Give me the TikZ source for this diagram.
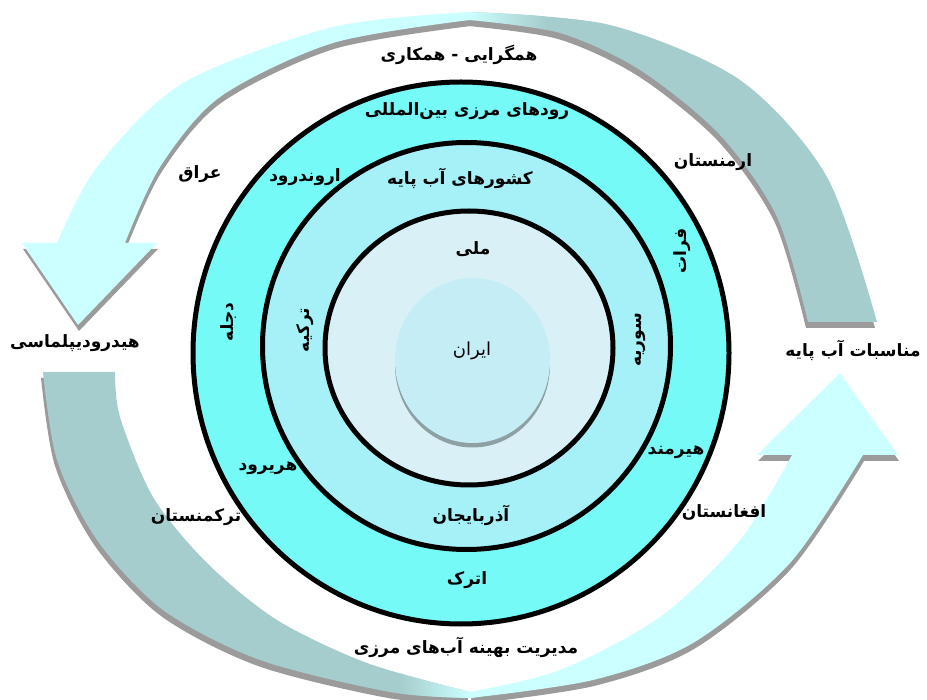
\documentclass[tikz,border=0pt]{standalone}
\usepackage{fontspec}
\newfontfamily\fa[Script=Arabic]{DejaVu Sans}
\TeXXeTstate=1
\newcommand\rtl[1]{\beginR #1\endR}
\definecolor{arrowcyan}{HTML}{CCFFFF}
\definecolor{arrowteal}{HTML}{A6CDCD}
\definecolor{shadowgray}{HTML}{9B9B9B}
\definecolor{ringA}{HTML}{76FAF8}
\definecolor{ringB}{HTML}{A6F1F8}
\definecolor{ringC}{HTML}{D9F1F6}
\definecolor{iranc}{HTML}{C5EDF5}
\definecolor{iranshadow}{HTML}{8FA0A5}
\begin{document}
\begin{tikzpicture}[x=1pt,y=-1pt,
  lbl/.style={font=\fa\bfseries\fontsize{17}{19}\selectfont, inner sep=0pt, text=black},
  lblreg/.style={font=\fa\fontsize{18}{20}\selectfont, inner sep=0pt, text=black},
  ring/.style={line width=5, draw=black},
  topL/.style={insert path={(470,12) -- plot[smooth] coordinates {(470,12) (333,27) (183,83) (97,167) (57,243)} -- (22,243) -- (78,325) -- (157,243) -- (125,243) -- plot[smooth] coordinates {(125,243) (160,167) (220,97) (333,43) (470,20)} -- cycle}},
  topR/.style={insert path={(470,12) -- plot[smooth] coordinates {(470,12) (610,25) (740,80) (827,177) (877,322)} -- (808,322) -- plot[smooth] coordinates {(808,322) (777,217) (720,135) (640,70) (560,33) (470,20)} -- cycle}},
  botL/.style={insert path={(43,372) -- plot[smooth] coordinates {(43,372) (57,460) (97,540) (163,610) (260,660) (390,692) (470,698)} -- (470,692) -- plot[smooth] coordinates {(470,692) (367,663) (277,620) (207,563) (153,497) (120,417) (115,372)} -- cycle}},
  botR/.style={insert path={(470,698) -- plot[smooth] coordinates {(470,698) (593,680) (693,643) (790,563) (863,455)} -- (898,455) -- (840,373) -- (757,455) -- (792,455) -- plot[smooth] coordinates {(792,455) (740,540) (660,617) (560,670) (470,692)} -- cycle}},
]
\useasboundingbox (0,0) rectangle (927,700);
% arrow shadows
\fill[shadowgray, shift={(1,6)}, topL];
\fill[shadowgray, shift={(-2,6)}, topR];
\fill[shadowgray, shift={(-2,6)}, botL];
\fill[shadowgray, shift={(1,6)}, botR];
% arrows
\fill[arrowcyan, topL];
\fill[arrowteal, topR];
\fill[arrowteal, botL];
\fill[arrowcyan, botR];
% soft colour transitions where the ribbons twist
\begin{scope}
  \clip[topR];
  \shade[left color=arrowcyan, right color=arrowteal] (469,0) rectangle (545,60);
\end{scope}
\begin{scope}
  \clip[botL];
  \shade[left color=arrowteal, right color=arrowcyan] (400,640) rectangle (471,700);
\end{scope}
% rings
\draw[ring, fill=ringA] (461,353) ellipse [x radius=268, y radius=271];
\draw[ring, fill=ringB] (466.5,346) ellipse [x radius=204, y radius=203.5];
\draw[ring, fill=ringC] (469,348) ellipse [x radius=144, y radius=137];
\fill[iranshadow] (472.5,365) ellipse [x radius=77.5, y radius=82.5];
\fill[iranc] (472.5,360.5) ellipse [x radius=77.5, y radius=82.5];
% labels
\node[lbl] (hamgarai) at (459,55) {\rtl{همگرایی - همکاری}};
\node[lbl] (rudha) at (467,111) {\rtl{رودهای مرزی بین‌المللی}};
\node[lbl] (aragh) at (200,174) {\rtl{عراق}};
\node[lbl] (arvand) at (305,177) {\rtl{اروندرود}};
\node[lbl] (keshvarha) at (460,178) {\rtl{کشورهای آب پایه}};
\node[lbl] (armanestan) at (713,162) {\rtl{ارمنستان}};
\node[lbl, rotate=90] (forat) at (682,251) {\rtl{فرات}};
\node[lbl] (melli) at (473,249) {\rtl{ملی}};
\node[lbl, rotate=90] (dejle) at (229,322) {\rtl{دجله}};
\node[lbl, rotate=90] (torkiye) at (305,330) {\rtl{ترکیه}};
\node[lblreg] (iran) at (472,351) {\rtl{ایران}};
\node[lbl, rotate=90] (suriye) at (640,340) {\rtl{سوریه}};
\node[lbl] (hidro) at (75,343) {\rtl{هیدرودیپلماسی}};
\node[lbl] (monasebat) at (853,350) {\rtl{مناسبات آب پایه}};
\node[lbl] (hirmand) at (676,452) {\rtl{هیرمند}};
\node[lbl] (harirud) at (268,468) {\rtl{هریرود}};
\node[lbl] (torkaman) at (196,517) {\rtl{ترکمنستان}};
\node[lbl] (azar) at (471,515) {\rtl{آذربایجان}};
\node[lbl] (afghan) at (724,512) {\rtl{افغانستان}};
\node[lbl] (atrak) at (467,580) {\rtl{اترک}};
\node[lbl] (modiriat) at (466,647) {\rtl{مدیریت بهینه آب‌های مرزی}};
\end{tikzpicture}
\end{document}
